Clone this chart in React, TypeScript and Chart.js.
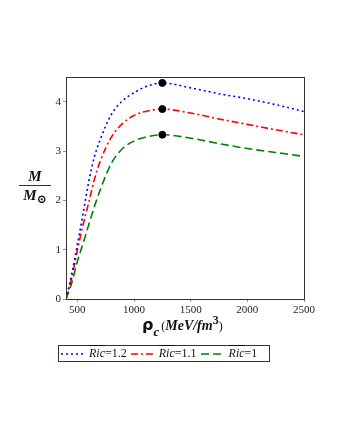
import React, { useEffect, useRef } from "react";
import { Chart, registerables } from "chart.js";

Chart.register(...registerables);

const rho = [400, 450, 500, 550, 600, 650, 700, 800, 900, 1000, 1100, 1250, 1500, 1750, 2000, 2250, 2500];
const massRic12 = [0, 0.5, 1.1, 1.72, 2.37, 2.88, 3.22, 3.74, 4.02, 4.18, 4.3, 4.38, 4.28, 4.16, 4.06, 3.94, 3.8];
const massRic11 = [0, 0.42, 0.98, 1.5, 1.95, 2.42, 2.78, 3.28, 3.56, 3.72, 3.8, 3.85, 3.77, 3.65, 3.54, 3.43, 3.33];
const massRic10 = [0, 0.32, 0.76, 1.12, 1.5, 1.87, 2.2, 2.75, 3.05, 3.2, 3.28, 3.33, 3.26, 3.15, 3.05, 2.97, 2.89];
const peakRho = [1250, 1250, 1250];
const peakMass = [4.38, 3.85, 3.33];
const xTicks = [500, 1000, 1500, 2000, 2500];
const yTicks = [0, 1, 2, 3, 4];
const legendLabels = ["1.2", "1.1", "1"];

const colors = ["#0000ff", "#ff0000", "#008000"];
const dashes = [[2, 3], [7, 3, 2, 3], [8, 4]];
const svgDashes = ["2,3", "7,3,2,3", "8,4"];

const framePlugin = {
  id: "frame",
  afterDraw(chart: any) {
    const { ctx, chartArea } = chart;
    ctx.save();
    ctx.strokeStyle = "#333";
    ctx.lineWidth = 1;
    ctx.strokeRect(
      Math.round(chartArea.left) + 0.5,
      Math.round(chartArea.top) + 0.5,
      Math.round(chartArea.right - chartArea.left),
      Math.round(chartArea.bottom - chartArea.top)
    );
    ctx.restore();
  },
};

export default function App() {
  const ref = useRef<HTMLCanvasElement | null>(null);

  useEffect(() => {
    if (!ref.current) return;
    const series = [massRic12, massRic11, massRic10];
    const datasets: any[] = series.map((s, i) => ({
      label: "Ric=" + legendLabels[i],
      data: rho.map((x, j) => ({ x, y: s[j] })),
      borderColor: colors[i],
      borderDash: dashes[i],
      borderWidth: 1.6,
      pointRadius: 0,
      cubicInterpolationMode: "monotone",
      fill: false,
      order: 1,
    }));
    datasets.push({
      type: "scatter",
      label: "peak",
      data: peakRho.map((x, j) => ({ x, y: peakMass[j] })),
      backgroundColor: "#000",
      borderColor: "#000",
      pointRadius: 3.5,
      showLine: false,
      order: 0,
    });
    const tickFont = { family: "Liberation Serif", size: 11 };
    const chart = new Chart(ref.current, {
      type: "line",
      data: { datasets },
      plugins: [framePlugin],
      options: {
        animation: false,
        responsive: false,
        layout: { padding: { left: 46, right: 36, top: 77, bottom: 121 } },
        plugins: { legend: { display: false }, tooltip: { enabled: false } },
        scales: {
          x: {
            type: "linear",
            min: 400,
            max: 2500,
            afterBuildTicks: (s: any) => {
              s.ticks = xTicks.map((v) => ({ value: v }));
            },
            afterFit: (s: any) => {
              s.height = 20;
            },
            border: { display: false },
            grid: { drawOnChartArea: false, tickLength: 3, color: "#999" },
            ticks: {
              font: tickFont,
              color: "#222",
              padding: 2,
              maxRotation: 0,
              callback: (v: any) => String(v),
            },
          },
          y: {
            type: "linear",
            min: 0,
            max: 4.5,
            afterBuildTicks: (s: any) => {
              s.ticks = yTicks.map((v) => ({ value: v }));
            },
            afterFit: (s: any) => {
              s.width = 20;
            },
            border: { display: false },
            grid: { drawOnChartArea: false, tickLength: 3, color: "#999" },
            ticks: {
              font: tickFont,
              color: "#222",
              padding: 2,
              callback: (v: any) => String(v),
            },
          },
        },
      },
    } as any);
    return () => chart.destroy();
  }, []);

  const serif = "'Liberation Serif', 'DejaVu Serif', serif";

  return (
    <div style={{ position: "absolute", left: 0, top: 0, width: 340, height: 440, background: "#fff" }}>
      <canvas ref={ref} width={340} height={440} style={{ position: "absolute", left: 0, top: 0 }} />
      {/* Y title fraction */}
      <div
        style={{
          position: "absolute",
          left: 19,
          top: 169,
          width: 32,
          textAlign: "center",
          fontFamily: serif,
          fontWeight: "bold",
          fontStyle: "italic",
          fontSize: 15,
          color: "#111",
          lineHeight: "15px",
        }}
      >
        <div style={{ borderBottom: "1.3px solid #333", paddingBottom: 1 }}>M</div>
        <div style={{ paddingTop: 2, whiteSpace: "nowrap" }}>
          M<sub style={{ fontSize: 12, fontStyle: "normal", verticalAlign: "-3px" }}>⊙</sub>
        </div>
      </div>
      {/* X title */}
      <div
        style={{
          position: "absolute",
          left: 142,
          top: 313,
          whiteSpace: "nowrap",
          fontFamily: serif,
          color: "#111",
          fontWeight: "bold",
        }}
      >
        <span style={{ fontSize: 16, fontFamily: "'DejaVu Sans', sans-serif" }}>ρ</span>
        <sub style={{ fontSize: 13, fontStyle: "italic", verticalAlign: "-6px" }}>c</sub>
        <span style={{ fontSize: 14, fontStyle: "italic", marginLeft: 2 }}>
          <span style={{ fontWeight: "normal", fontStyle: "normal", fontSize: 12 }}>(</span>
          MeV/fm
          <sup style={{ fontSize: 12, fontStyle: "normal", verticalAlign: "6px" }}>3</sup>
          <span style={{ fontWeight: "normal", fontStyle: "normal", fontSize: 12 }}>)</span>
        </span>
      </div>
      {/* Legend */}
      <div
        style={{
          position: "absolute",
          left: 58,
          top: 345,
          width: 210,
          height: 15,
          border: "1px solid #333",
          display: "flex",
          alignItems: "center",
          fontFamily: serif,
          fontSize: 12,
          color: "#111",
          whiteSpace: "nowrap",
        }}
      >
        {legendLabels.map((lab, i) => (
          <span key={i} style={{ display: "inline-flex", alignItems: "center", marginLeft: i === 0 ? 2 : 4 }}>
            <svg width={23} height={8} style={{ marginRight: 5 }}>
              <line x1={0} y1={4} x2={23} y2={4} stroke={colors[i]} strokeWidth={1.6} strokeDasharray={svgDashes[i]} />
            </svg>
            <span style={{ fontStyle: "italic", textDecoration: "overline" }}>Ric</span>
            <span>={lab}</span>
          </span>
        ))}
      </div>
    </div>
  );
}
